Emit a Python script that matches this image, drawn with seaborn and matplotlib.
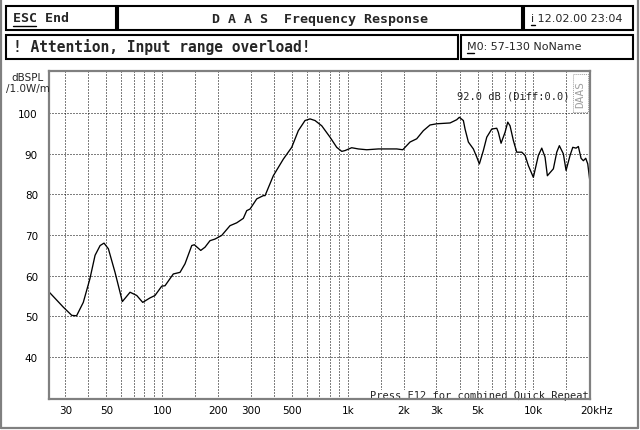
import matplotlib
matplotlib.use("Agg")
import pandas as pd
import matplotlib.pyplot as plt
import seaborn as sns
from matplotlib.lines import Line2D
from matplotlib.patches import Rectangle
from matplotlib.ticker import FixedLocator
from matplotlib.transforms import ScaledTranslation

# Frequency response (Hz, dB SPL / 1W / 1m)
freq_hz = [24.6, 29.3, 32.5, 34.5, 37.5, 40.7, 43.4, 46.2, 48.5, 51.2, 55.6, 60.9,
           67.0, 72.8, 78.4, 85.8, 91.3, 99.3, 103.4, 114.6, 124.6, 132.5, 144.1,
           148.8, 161.1, 169.9, 180.7, 192.3, 209.0, 231.7, 251.8, 273.3, 285.1,
           297.1, 322.9, 350.3, 357.9, 396.6, 449.1, 498.4, 540.8, 587.8, 625.5,
           665.4, 723.4, 801.6, 871.0, 927.0, 965.8, 1049, 1139, 1265, 1460, 1689,
           1835, 1977, 2164, 2351, 2553, 2774, 3016, 3556, 3864, 3990, 4195, 4284,
           4464, 4749, 4954, 5116, 5376, 5609, 5967, 6349, 6476, 6698, 7038, 7278,
           7488, 7801, 8137, 8661, 9023, 9398, 10000, 10640, 11100, 11560, 11900,
           12820, 13370, 13810, 14510, 15010, 15770, 16310, 16990, 17480, 18080,
           18600, 19160, 19650, 20200]
spl_db = [55.9, 52.2, 50.2, 50.1, 53.4, 59.2, 65.0, 67.4, 68.0, 66.6, 60.8, 53.6,
          55.9, 55.1, 53.4, 54.5, 55.1, 57.4, 57.5, 60.4, 60.8, 62.9, 67.4,
          67.6, 66.2, 67.0, 68.6, 69.0, 69.9, 72.3, 73.0, 74.1, 76.0,
          76.4, 78.9, 79.7, 79.7, 84.6, 88.7, 91.6, 95.7, 98.2, 98.6,
          98.2, 96.9, 94.1, 91.6, 90.6, 90.8, 91.5, 91.2, 91.0, 91.2, 91.2,
          91.2, 91.0, 92.9, 93.7, 95.7, 97.1, 97.4, 97.6, 98.4, 99.0, 98.2, 96.1,
          92.9, 91.2, 89.2, 87.5, 90.8, 94.1, 96.1, 96.3, 95.3, 92.6, 95.3, 97.8,
          96.9, 93.3, 90.4, 90.4, 89.6, 87.1, 84.2, 89.6, 91.4, 89.2, 84.6,
          86.3, 90.4, 92.0, 90.0, 85.9, 89.6, 91.6, 91.4, 91.8, 88.9,
          88.3, 88.9, 87.5, 83.0]

x_grid = [30, 40, 50, 60, 70, 80, 90, 100, 150, 200, 300, 400, 500, 600, 700, 800,
          900, 1000, 1500, 2000, 3000, 4000, 5000, 6000, 7000, 8000, 9000, 10000, 15000]
x_ticks = [30, 50, 100, 200, 300, 500, 1000, 2000, 3000, 5000, 10000, 20000]
x_labels = ["30", "50", "100", "200", "300", "500", "1k", "2k", "3k", "5k", "10k", "20kHz"]
y_ticks = [40, 50, 60, 70, 80, 90, 100]

W, H = 640, 431
HALFTONE = "#808080"


def fx(x):
    return x / W


def fy(y):
    return 1 - y / H


sns.set_style("white")
plt.rcParams["font.family"] = ["DejaVu Sans"]

fig = plt.figure(figsize=(6.4, 4.31), dpi=100)
ax = fig.add_axes([fx(49), fy(400), (590 - 49) / W, (400 - 72) / H])

df = pd.DataFrame({"freq": freq_hz, "spl": spl_db})
sns.lineplot(data=df, x="freq", y="spl", estimator=None, sort=False,
             color="black", lw=0.95, ax=ax, zorder=3)

ax.set_xscale("log")
ax.set_xlim(24.5, 20200)
ax.set_ylim(29.6, 110.4)
ax.set_xlabel("")
ax.set_ylabel("")

ax.xaxis.set_major_locator(FixedLocator(x_ticks))
ax.xaxis.set_minor_locator(FixedLocator([]))
ax.set_xticklabels(x_labels)
ax.set_yticks(y_ticks)
ax.set_yticklabels([str(v) for v in y_ticks])
ax.tick_params(axis="both", which="both", length=0, labelsize=7.5, colors="black")
ax.tick_params(axis="x", pad=4)
ax.tick_params(axis="y", pad=8)

# dotted grid
dots = dict(color="black", lw=0.72, linestyle=(0, (1, 2)), zorder=1)
ax.grid(False)
for f in x_grid:
    ax.axvline(f, **dots)
for v in y_ticks:
    ax.axhline(v, **dots)

# last label "20kHz": anchor "20k" on the tick
lab = ax.get_xticklabels()[-1]
lab.set_horizontalalignment("left")
lab.set_transform(lab.get_transform() + ScaledTranslation(-9 / 100, 0, fig.dpi_scale_trans))

for sp in ax.spines.values():
    sp.set_color(HALFTONE)
    sp.set_linewidth(1.6)
    sp.set_zorder(5)

# texts inside / around the plot
fig.text(fx(28), fy(78), "dBSPL", ha="center", va="center", fontsize=7.5)
fig.text(fx(28), fy(89), "/1.0W/m", ha="center", va="center", fontsize=7.5)
ax.text(0.963, 0.925, "92.0 dB (Diff:0.0)", transform=ax.transAxes,
        ha="right", va="center", fontsize=7.5, family="DejaVu Sans Mono")
ax.text(0.998, -0.004, "Press F12 for combined Quick Repeat", transform=ax.transAxes,
        ha="right", va="bottom", fontsize=7.5, family="DejaVu Sans Mono",
        bbox=dict(fc="white", ec="none", pad=0.5), zorder=4)
fig.add_artist(Rectangle((fx(573), fy(113)), 15 / W, 38 / H, transform=fig.transFigure,
                         fill=False, ec="#a0a0a0", lw=0.7, linestyle=(0, (1, 1))))
fig.text(fx(580.5), fy(94), "DAAS", rotation=90, ha="center", va="center",
         fontsize=8, color="#a0a0a0", family="DejaVu Sans Mono")

# header boxes
boxes = [(6, 7, 116, 31), (118, 7, 522, 31), (524, 7, 633, 31),
         (6, 36, 458, 60), (461, 36, 633, 60)]
for x0, y0, x1, y1 in boxes:
    fig.add_artist(Rectangle((fx(x0), fy(y1)), (x1 - x0) / W, (y1 - y0) / H,
                             transform=fig.transFigure, fill=False, ec="black", lw=1.5))

mono = dict(family="DejaVu Sans Mono", fontweight="bold", va="center")
fig.text(fx(13), fy(19), "ESC End", ha="left", fontsize=9.5, **mono)
fig.text(fx(320), fy(19.5), "D A A S  Frequency Response", ha="center", fontsize=9.5, **mono)
fig.text(fx(13), fy(47), "! Attention, Input range overload!", ha="left", fontsize=10.5, **mono)
fig.text(fx(531), fy(19), "i 12.02.00 23:04", ha="left", va="center", fontsize=8)
fig.text(fx(467), fy(47), "M0: 57-130 NoName", ha="left", va="center", fontsize=8)

underlines = [(13, 36, 27), (531, 535, 26), (467, 474, 54)]
for x0, x1, y in underlines:
    fig.add_artist(Line2D([fx(x0), fx(x1)], [fy(y), fy(y)], transform=fig.transFigure,
                          color="black", lw=1))

# halftone screen border
for xs, ys in [([1, 1], [0, 429]), ([1, 638], [429, 429]), ([638, 638], [0, 429])]:
    fig.add_artist(Line2D([fx(v) for v in xs], [fy(v) for v in ys],
                          transform=fig.transFigure, color=HALFTONE, lw=1.6))

fig.savefig("out.png", dpi=100)
